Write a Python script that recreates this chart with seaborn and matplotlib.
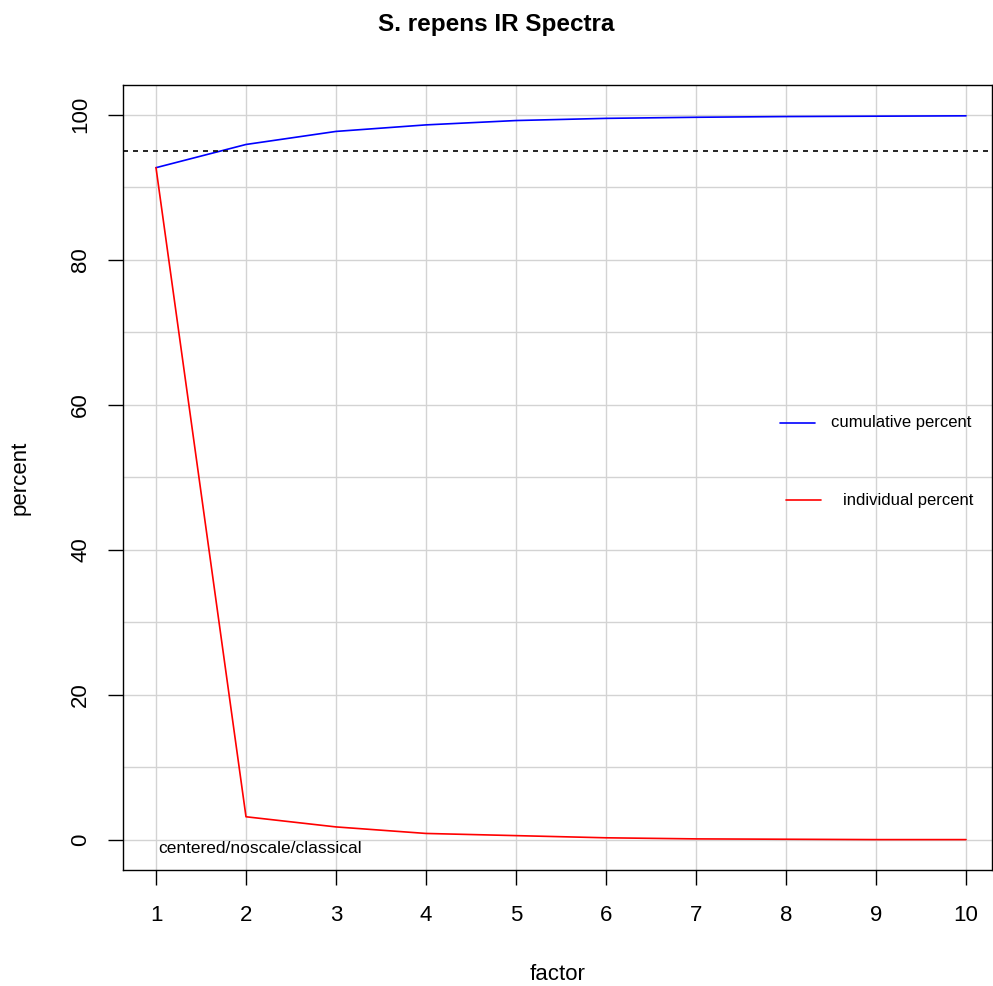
import matplotlib
matplotlib.use("Agg")
import matplotlib.pyplot as plt
import seaborn as sns
import pandas as pd

factor = [1,2,3,4,5,6,7,8,9,10]
cumulative = [92.7,95.9,97.7,98.6,99.2,99.5,99.65,99.75,99.8,99.85]
individual = [92.7,3.2,1.8,0.9,0.6,0.3,0.15,0.1,0.05,0.05]
df = pd.DataFrame({"factor":factor,"cum":cumulative,"ind":individual})

sns.set_style("white")
plt.rcParams['font.family'] = ['Liberation Sans','DejaVu Sans']
plt.rcParams['text.color'] = 'black'
fig = plt.figure(figsize=(9.93,9.86), dpi=100)
ax = fig.add_axes([123/993, 1-870/986, (992-123)/993, (870-85)/986])
for x in factor:
    ax.axvline(x, color='lightgray', lw=1, zorder=0)
for y in range(0,101,10):
    ax.axhline(y, color='lightgray', lw=1, zorder=0)
sns.lineplot(data=df, x="factor", y="cum", color="blue", lw=1.2, ax=ax)
sns.lineplot(data=df, x="factor", y="ind", color="red", lw=1.2, ax=ax)
ax.axhline(95, color='black', ls=(0,(3,3)), lw=1.2)
ax.set_xlim(1-33/90, 10+26/90)
ax.set_ylim(-4.14, 104.1)
ax.set_xticks(factor)
ax.set_yticks([0,20,40,60,80,100])
ax.tick_params(axis='both', labelsize=16, length=11, width=1, pad=14, direction='out',
               bottom=True, left=True, color='black', labelcolor='black')
ax.tick_params(axis='y', pad=12)
for t in ax.get_yticklabels():
    t.set_rotation(90); t.set_va('center')
for s in ax.spines.values():
    s.set_color('black'); s.set_linewidth(1)
ax.set_xlabel("factor", fontsize=16, color='black')
ax.set_ylabel("percent", fontsize=16, color='black')
ax.xaxis.set_label_coords(0.5, (870-975)/785, transform=ax.transAxes)
ax.yaxis.set_label_coords((20-123)/869, 0.5, transform=ax.transAxes)
ax.xaxis.label.set_va('center'); ax.yaxis.label.set_va('center')
fig.text(0.5, 1-25/986, "S. repens IR Spectra", ha='center', va='center', fontsize=17.5, fontweight='bold')
ax.text(1.03, -1.2, "centered/noscale/classical", fontsize=12.5, va='center')
fig.lines.append(plt.Line2D([780/993, 815/993],[1-423/986]*2, color='blue', lw=1.2, transform=fig.transFigure))
fig.text(831/993, 1-423/986, "cumulative percent", fontsize=12, va='center')
fig.lines.append(plt.Line2D([786/993, 821/993],[1-500/986]*2, color='red', lw=1.2, transform=fig.transFigure))
fig.text(843/993, 1-500/986, "individual percent", fontsize=12, va='center')
fig.savefig("out.png", dpi=100)
